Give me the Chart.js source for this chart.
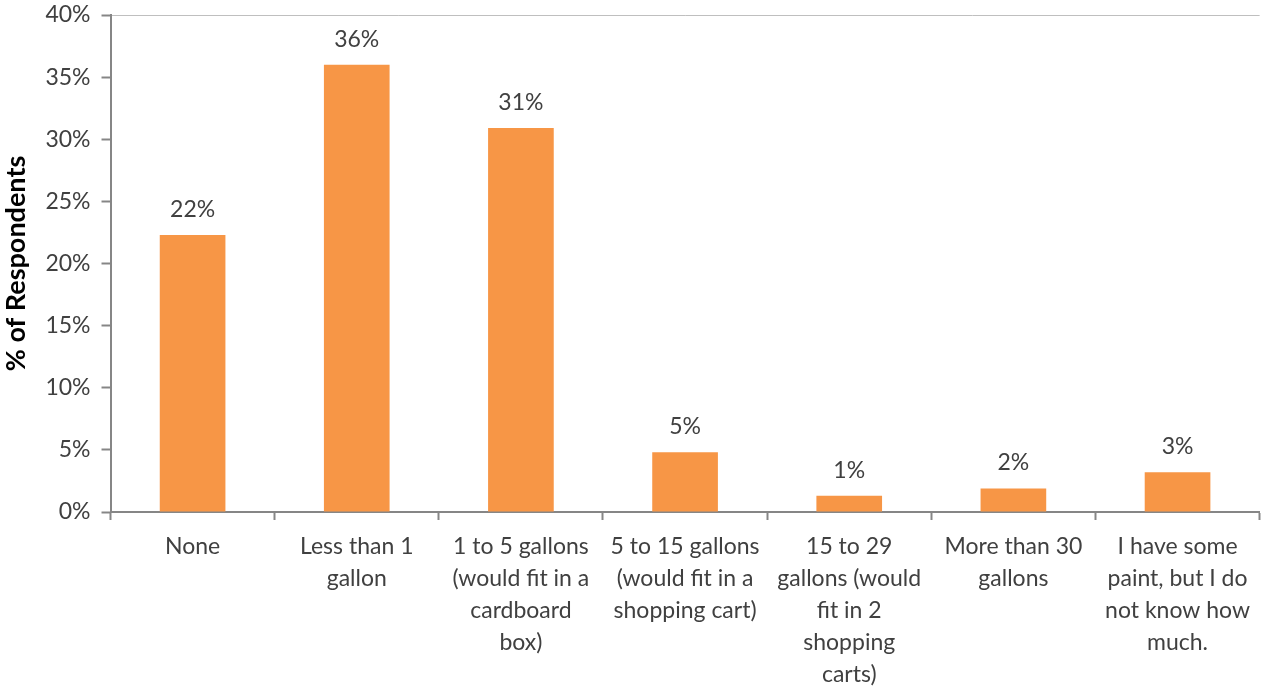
<!DOCTYPE html>
<html>
<head>
<meta charset="utf-8">
<script src="https://cdn.jsdelivr.net/npm/chart.js@4"></script>
<style>
    html, body { margin: 0; padding: 0; background: #ffffff; }
    #wrap { width: 1261px; height: 690px; }
</style>
</head>
<body>
<div id="wrap"><canvas id="chart"></canvas></div>
<script>
// Categories (multi-line tick labels)
const categories = [
    ['None'],
    ['Less than 1', 'gallon'],
    ['1 to 5 gallons', '(would fit in a', 'cardboard', 'box)'],
    ['5 to 15 gallons', '(would fit in a', 'shopping cart)'],
    ['15 to 29', 'gallons (would', 'fit in 2', 'shopping', 'carts)'],
    ['More than 30', 'gallons'],
    ['I have some', 'paint, but I do', 'not know how', 'much.']
];

// % of respondents
const percentValues = [22.3, 36.0, 30.9, 4.8, 1.3, 1.9, 3.2];

const yTicks = [0, 5, 10, 15, 20, 25, 30, 35, 40];

const textColor = '#404040';
const axisColor = '#868686';
const fontFamily = 'Lato, "Open Sans", sans-serif';

// Draw value labels above each bar
const valueLabels = {
    id: 'valueLabels',
    afterDatasetsDraw(chart) {
        const ctx = chart.ctx;
        const meta = chart.getDatasetMeta(0);
        ctx.save();
        ctx.fillStyle = textColor;
        ctx.font = '23px ' + fontFamily;
        ctx.textAlign = 'center';
        ctx.textBaseline = 'bottom';
        meta.data.forEach((bar, i) => {
            ctx.fillText(Math.round(percentValues[i]) + '%', bar.x, bar.y - 14);
        });
        ctx.restore();
    }
};

const ctx = document.getElementById('chart').getContext('2d');
new Chart(ctx, {
    type: 'bar',
    data: {
        labels: categories,
        datasets: [{
            data: percentValues,
            backgroundColor: '#F79646',
            borderWidth: 0,
            barPercentage: 0.8,
            categoryPercentage: 0.5
        }]
    },
    options: {
        responsive: true,
        maintainAspectRatio: false,
        animation: false,
        layout: { padding: { top: 15, right: 0, left: 0, bottom: -12 } },
        plugins: {
            legend: { display: false },
            tooltip: { enabled: false }
        },
        scales: {
            x: {
                grid: {
                    offset: true,
                    drawOnChartArea: false,
                    drawTicks: true,
                    tickLength: 8,
                    tickWidth: 2,
                    color: axisColor
                },
                border: { color: axisColor, width: 2 },
                ticks: {
                    color: textColor,
                    autoSkip: false,
                    maxRotation: 0,
                    padding: 11,
                    font: { family: fontFamily, size: 23, lineHeight: '32px' }
                }
            },
            y: {
                min: 0,
                max: 40,
                afterBuildTicks(axis) {
                    axis.ticks = yTicks.map(v => ({ value: v }));
                },
                afterFit(axis) {
                    axis.paddingTop = 0;
                },
                grid: {
                    drawTicks: true,
                    tickLength: 9,
                    tickWidth: 2,
                    color: ctx => ctx.tick && ctx.tick.value === 40 ? '#bfbfbf' : 'rgba(0,0,0,0)',
                    tickColor: axisColor,
                    lineWidth: 1
                },
                border: { color: axisColor, width: 2 },
                ticks: {
                    color: textColor,
                    padding: 11,
                    font: { family: fontFamily, size: 23 },
                    callback: v => v + '%'
                },
                title: {
                    display: true,
                    text: '% of Respondents',
                    color: '#000000',
                    padding: { top: 0, bottom: 2 },
                    font: { family: fontFamily, size: 27, weight: 'bold' }
                }
            }
        }
    },
    plugins: [valueLabels]
});
</script>
</body>
</html>
